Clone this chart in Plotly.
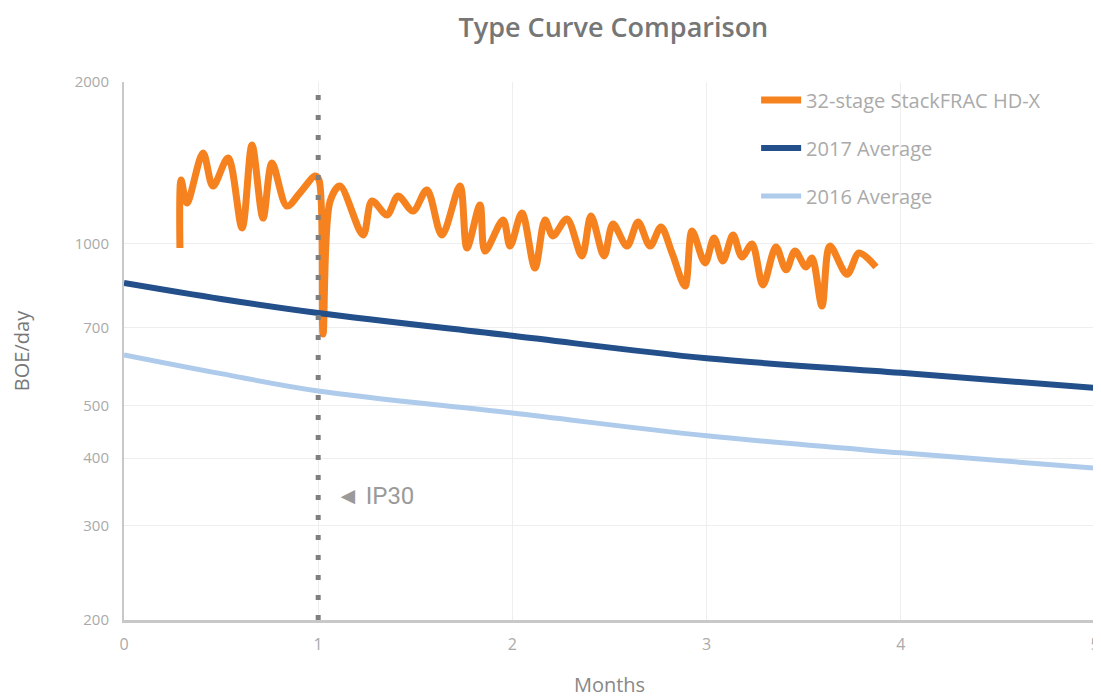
import plotly.graph_objects as go
import numpy as np

# ---- data ----
stack_months = [0.288, 0.294, 0.324, 0.407, 0.458, 0.536, 0.608, 0.659, 0.716, 0.762,
                0.839, 0.906, 0.984, 1.004, 1.025, 1.061, 1.112, 1.231, 1.277, 1.354,
                1.411, 1.488, 1.560, 1.637, 1.730, 1.766, 1.833, 1.859, 1.952, 1.988,
                2.049, 2.116, 2.168, 2.209, 2.281, 2.358, 2.405, 2.472, 2.518, 2.590,
                2.647, 2.709, 2.765, 2.822, 2.889, 2.925, 2.992, 3.038, 3.084, 3.136,
                3.182, 3.234, 3.290, 3.357, 3.409, 3.455, 3.512, 3.543, 3.594, 3.635,
                3.723, 3.785, 3.872]
stack_boe = [983, 1315, 1191, 1476, 1281, 1445, 1071, 1527, 1117, 1414,
             1176, 1244, 1337, 1315, 680, 1200, 1281, 1039, 1202, 1132,
             1228, 1151, 1260, 1039, 1281, 983, 1181, 970, 1108, 991,
             1142, 902, 1108, 1035, 1113, 950, 1127, 950, 1089, 991,
             1098, 991, 1075, 962, 835, 1057, 922, 1026, 930, 1039,
             946, 1000, 839, 987, 895, 970, 906, 942, 767, 991,
             878, 962, 906]

avg_months = [0, 0.5, 1, 2, 3, 4, 5]
avg2017_boe = [846, 790, 744, 675, 613, 576, 540]
avg2016_boe = [622, 574, 533, 485, 440, 409, 383]

y_tickvals = [200, 300, 400, 500, 700, 1000, 2000]
y_ticktext = ["200", "300", "400", "500", "700", "1000", "2000"]
x_tickvals = [0, 1, 2, 3, 4, 5]
ip30_month = 1
ip30_label_y = 340

series_names = ["32-stage StackFRAC HD-X", "2017 Average", "2016 Average"]

# ---- figure ----
W, H = 1093, 690
fig = go.Figure()
fig.add_trace(go.Scatter(x=stack_months, y=stack_boe, mode="lines", name=series_names[0],
                         line=dict(color="#F5821F", width=7, shape="spline", smoothing=0.9),
                         legendgroup="a"))
fig.add_trace(go.Scatter(x=avg_months, y=avg2017_boe, mode="lines", name=series_names[1],
                         line=dict(color="#234F8A", width=6, shape="spline"),
                         legendgroup="b"))
fig.add_trace(go.Scatter(x=avg_months, y=avg2016_boe, mode="lines", name=series_names[2],
                         line=dict(color="#AECBEB", width=5, shape="spline"),
                         legendgroup="c"))

fig.add_shape(type="line", xref="x", yref="paper", x0=ip30_month, x1=ip30_month, y0=0, y1=1,
              line=dict(color="#7f7f7f", width=5, dash="5px,15px"))

fig.add_annotation(x=ip30_month + 0.08, y=np.log10(ip30_label_y), xref="x", yref="y",
                   text="\u25c4 IP30", showarrow=False, xanchor="left", yanchor="middle",
                   font=dict(family="Roboto", size=24, color="#9a9a9a"))

fig.update_layout(
    width=W, height=H,
    margin=dict(l=116, r=6, t=74, b=78, autoexpand=False),
    paper_bgcolor="white", plot_bgcolor="white",
    font=dict(family="Roboto", color="#999999"),
    title=dict(text="Type Curve Comparison", x=0.504, xref="paper", xanchor="center",
               y=1 - 20 / H, yref="container", yanchor="middle",
               font=dict(family="Open Sans", size=27, color="#767676", weight=600)),
    legend=dict(x=0.651, y=1.003, xanchor="left", yanchor="top", traceorder="grouped",
                tracegroupgap=19, bgcolor="rgba(0,0,0,0)", itemwidth=40,
                font=dict(family="Open Sans", size=20, color="#aaaaaa")),
    showlegend=True,
)

fig.update_xaxes(range=[0, 5], tickvals=x_tickvals, showgrid=True, gridcolor="#eeeeee",
                 gridwidth=1, zeroline=False, showline=True, linecolor="#c8c8c8", linewidth=3,
                 automargin=False,
                 tickfont=dict(family="Open Sans", size=16, color="#aaaaaa"), ticklabelstandoff=8,
                 title=dict(text="Months", font=dict(family="Open Sans", size=20, color="#888888"),
                            standoff=28))
fig.update_yaxes(type="log", range=[np.log10(200), np.log10(2000)], tickvals=y_tickvals,
                 ticktext=y_ticktext, showgrid=True, gridcolor="#eeeeee", gridwidth=1,
                 zeroline=False, showline=True, linecolor="#c8c8c8", linewidth=2,
                 automargin=False,
                 tickfont=dict(family="Open Sans", size=15, color="#aaaaaa"), ticklabelstandoff=10,
                 title=dict(text="BOE/day", font=dict(family="Open Sans", size=20, color="#777777"),
                            standoff=42))

fig.write_html("out.html")
